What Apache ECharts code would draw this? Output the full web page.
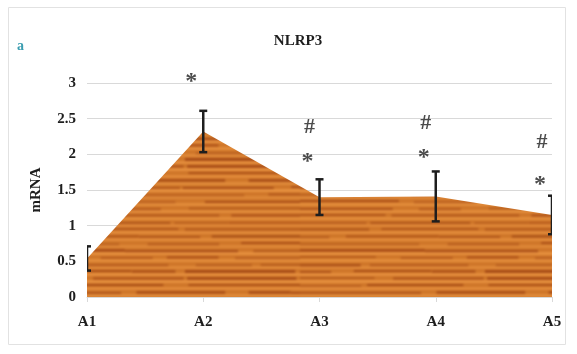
<!DOCTYPE html>
<html>
<head>
<meta charset="utf-8">
<script src="https://cdn.jsdelivr.net/npm/echarts@6/dist/echarts.min.js"></script>
<style>
  html, body { margin: 0; padding: 0; background: #fff; }
  #chart { width: 577px; height: 354px; }
</style>
</head>
<body>
<div id="chart"></div>
<script>
// NLRP3 mRNA expression per group
const categories = ['A1', 'A2', 'A3', 'A4', 'A5'];
const meanValues = [0.54, 2.32, 1.40, 1.41, 1.15];
const errorValues = [0.17, 0.29, 0.25, 0.35, 0.27];
const yTicks = [0, 0.5, 1, 1.5, 2, 2.5, 3];

// significance marks: [category index, y value, symbol]
const starMarks = [[1, 3.02, '*'], [2, 1.89, '*'], [3, 1.95, '*'], [4, 1.57, '*']];
const hashMarks = [[2, 2.38, '#'], [3, 2.44, '#'], [4, 2.17, '#']];

// wood-grain fill texture: soft horizontal bands of darker and lighter grain
function woodTexture() {
  const W = 300, H = 112;
  const raw = document.createElement('canvas');
  raw.width = W; raw.height = H;
  const g = raw.getContext('2d');
  g.fillStyle = '#cf7629';
  g.fillRect(0, 0, W, H);
  let seed = 11;
  const rnd = () => { seed = (seed * 16807) % 2147483647; return seed / 2147483647; };
  for (let y = 0; y < H; y += 7) {
    // light band
    g.fillStyle = 'rgba(242,158,74,' + (0.4 + rnd() * 0.3) + ')';
    g.fillRect(0, y, W, 3);
    // dark grain streaks along the band
    let x = -20;
    while (x < W) {
      const w = 40 + rnd() * 110;
      g.fillStyle = 'rgba(150,58,14,' + (0.3 + rnd() * 0.4) + ')';
      g.fillRect(x, y + 4 + Math.round(rnd()), w, 2 + Math.round(rnd()));
      x += w + rnd() * 30;
    }
  }
  // tile 3x3 so the blur wraps across tile edges without seams
  const big = document.createElement('canvas');
  big.width = 3 * W; big.height = 3 * H;
  const b = big.getContext('2d');
  for (let i = 0; i < 3; i++)
    for (let j = 0; j < 3; j++) b.drawImage(raw, i * W, j * H);
  const out = document.createElement('canvas');
  out.width = W; out.height = H;
  const o = out.getContext('2d');
  o.filter = 'blur(1px)';
  o.drawImage(big, -W, -H);
  return out;
}

const chart = echarts.init(document.getElementById('chart'), null, { renderer: 'canvas' });
const serif = 'Liberation Serif, Times New Roman, serif';

function markSeries(marks, size, dx) {
  return {
    type: 'scatter',
    data: marks.map(m => [categories[m[0]], m[1], m[2]]),
    symbolSize: 0,
    silent: true,
    clip: false,
    z: 5,
    label: {
      show: true,
      position: 'inside',
      offset: [dx, 0],
      formatter: p => p.data[2],
      fontFamily: serif,
      fontWeight: 'bold',
      fontSize: size,
      color: '#1e1e1e'
    }
  };
}

chart.setOption({
  animation: false,
  backgroundColor: '#fff',
  title: {
    text: 'NLRP3',
    left: 293, top: 29, textAlign: 'center',
    textStyle: { fontFamily: serif, fontWeight: 'bold', fontSize: 15, color: '#1e1e1e' }
  },
  graphic: [
    { type: 'rect', shape: { x: 8.5, y: 7.5, width: 557, height: 337 },
      style: { fill: null, stroke: '#e2e2e2', lineWidth: 1 }, z: -1 },
    { type: 'text', left: 17, top: 39,
      style: { text: 'a', font: 'bold 14px ' + serif, fill: '#3a9db0' } }
  ],
  grid: { left: 87, right: 25, top: 83, bottom: 57 },
  xAxis: {
    type: 'category',
    data: categories,
    boundaryGap: false,
    axisLine: { lineStyle: { color: '#d9d9d9' } },
    axisTick: { show: true, length: 5, lineStyle: { color: '#d9d9d9' } },
    axisLabel: { margin: 18, fontFamily: serif, fontWeight: 'bold', fontSize: 15, color: '#1e1e1e' }
  },
  yAxis: {
    type: 'value',
    min: 0, max: 3, interval: 0.5,
    name: 'mRNA',
    nameLocation: 'middle',
    nameGap: 43,
    nameTextStyle: { fontFamily: serif, fontWeight: 'bold', fontSize: 15, color: '#1e1e1e' },
    axisLine: { show: false },
    axisTick: { show: false },
    splitLine: { lineStyle: { color: '#d9d9d9' } },
    axisLabel: {
      margin: 11,
      fontFamily: serif, fontWeight: 'bold', fontSize: 15, color: '#1e1e1e',
      formatter: v => yTicks.includes(v) ? String(v) : ''
    }
  },
  series: [
    {
      type: 'line',
      data: meanValues,
      symbol: 'none',
      lineStyle: { width: 0 },
      areaStyle: { color: { image: woodTexture(), repeat: 'repeat' }, opacity: 1 },
      z: 2
    },
    {
      type: 'custom',
      clip: true,
      z: 4,
      data: meanValues.map((v, i) => [i, v - errorValues[i], v + errorValues[i]]),
      renderItem: (params, api) => {
        const lo = api.coord([api.value(0), api.value(1)]);
        const hi = api.coord([api.value(0), api.value(2)]);
        const w = 4;
        const style = { stroke: '#1e1e1e', lineWidth: 2.5 };
        return {
          type: 'group',
          children: [
            { type: 'line', shape: { x1: hi[0], y1: hi[1], x2: lo[0], y2: lo[1] }, style },
            { type: 'line', shape: { x1: hi[0] - w, y1: hi[1], x2: hi[0] + w, y2: hi[1] }, style },
            { type: 'line', shape: { x1: lo[0] - w, y1: lo[1], x2: lo[0] + w, y2: lo[1] }, style }
          ]
        };
      }
    },
    markSeries(starMarks, 24, -12),
    markSeries(hashMarks, 22, -10)
  ]
});
</script>
</body>
</html>
